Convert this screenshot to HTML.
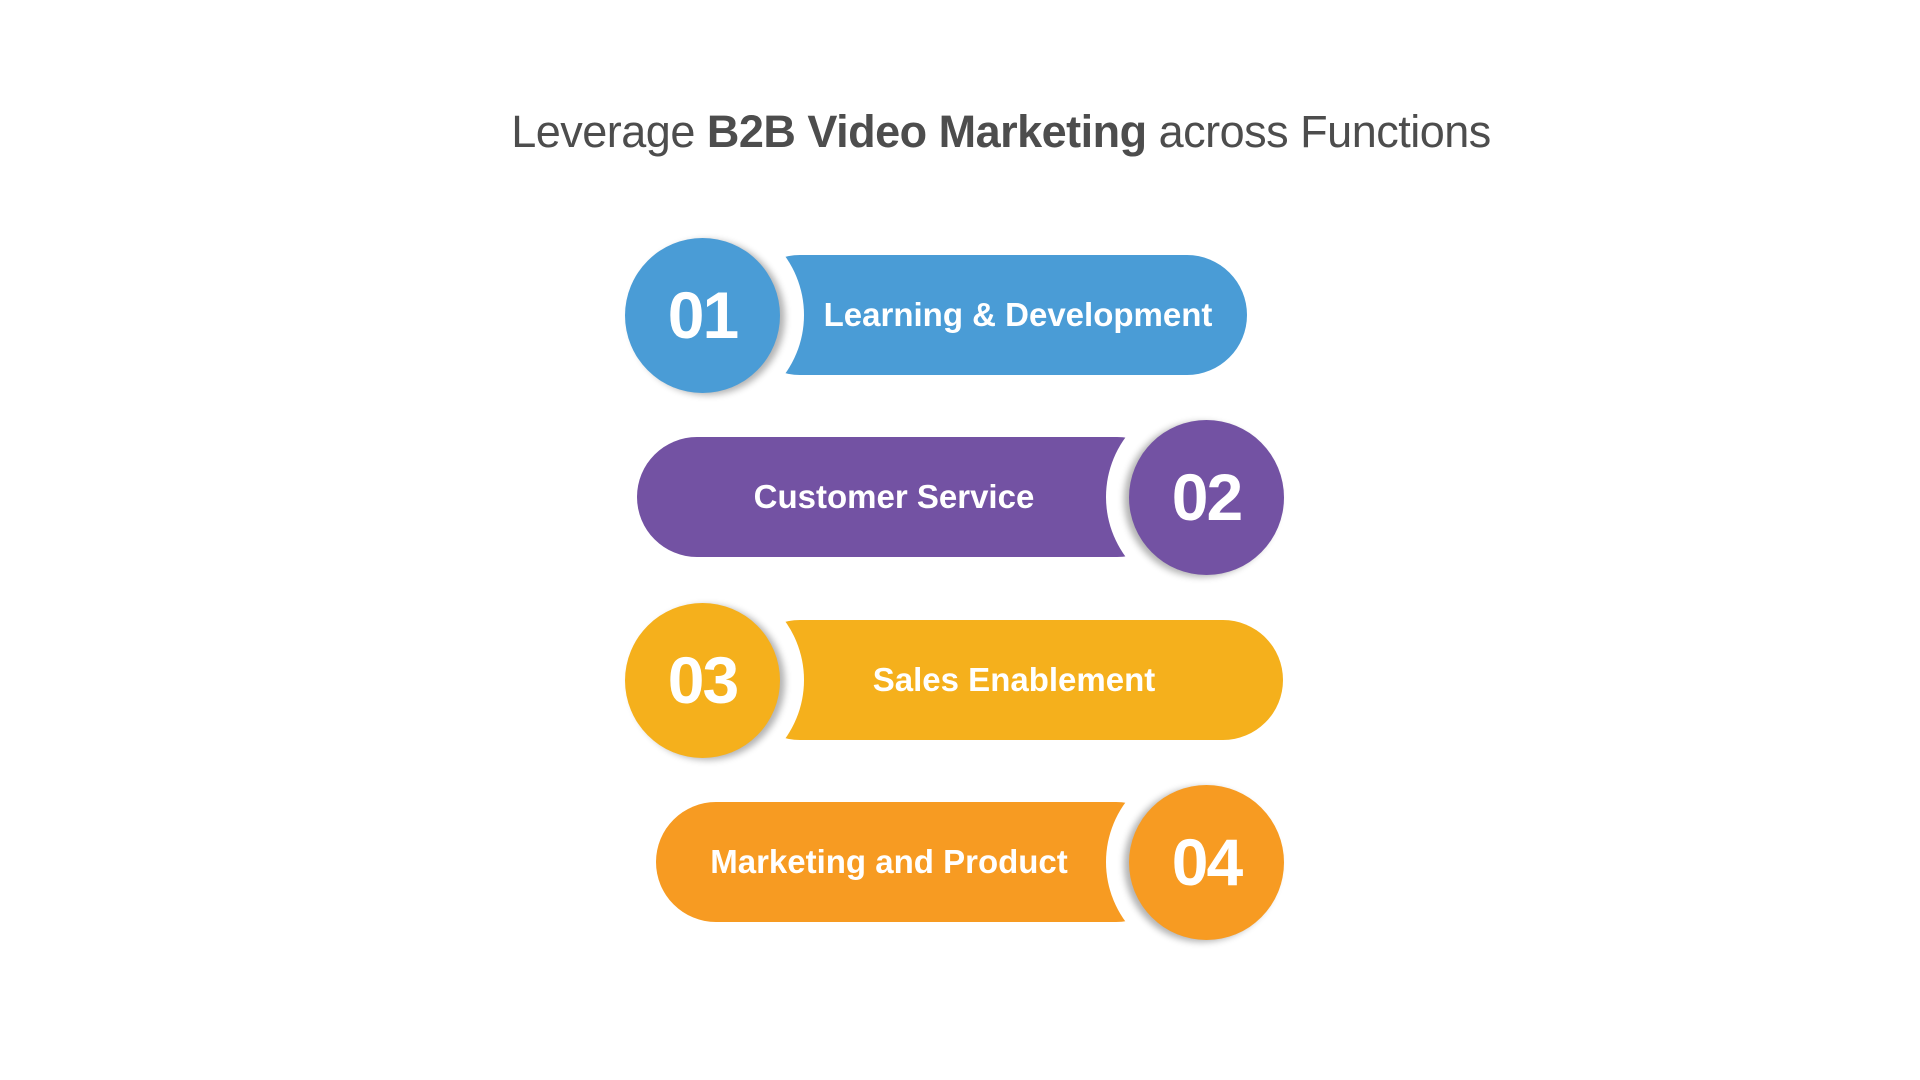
<!DOCTYPE html>
<html><head><meta charset="utf-8"><style>
html,body{margin:0;padding:0;background:#fff;}
body{width:1920px;height:1080px;position:relative;overflow:hidden;font-family:"Liberation Sans",sans-serif;}
.title{position:absolute;left:0;width:2002px;top:104px;text-align:center;font-size:45px;color:#4d4d4d;line-height:56px;letter-spacing:-0.5px;}
.bar{position:absolute;height:120px;border-radius:60px;color:#fff;font-weight:bold;font-size:33px;line-height:120px;}
.bar span{position:absolute;top:0;transform:translateX(-50%);white-space:nowrap;}
.ring{position:absolute;width:202px;height:202px;border-radius:50%;background:#fff;}
.circ{position:absolute;width:155px;height:155px;border-radius:50%;color:#fff;font-weight:bold;font-size:66px;line-height:155px;text-align:center;letter-spacing:-2px;}
</style></head><body>
<div class="title">Leverage <b>B2B Video Marketing</b> across Functions</div>

<!-- row 1 -->
<div class="bar" style="left:740px;width:507px;top:255px;background:#4a9cd6;"><span style="left:278px;">Learning &amp; Development</span></div>
<div class="ring" style="left:602px;top:214px;"></div>
<div class="circ" style="left:625px;top:238px;background:#4a9cd6;box-shadow:5px 2px 7px rgba(0,0,0,0.3);">01</div>

<!-- row 2 -->
<div class="bar" style="left:637px;width:540px;top:437px;background:#7352a3;"><span style="left:257px;">Customer Service</span></div>
<div class="ring" style="left:1106px;top:396px;"></div>
<div class="circ" style="left:1129px;top:420px;background:#7352a3;box-shadow:-5px 2px 7px rgba(0,0,0,0.3);">02</div>

<!-- row 3 -->
<div class="bar" style="left:740px;width:543px;top:620px;background:#f5b01c;"><span style="left:274px;">Sales Enablement</span></div>
<div class="ring" style="left:602px;top:579px;"></div>
<div class="circ" style="left:625px;top:603px;background:#f5b01c;box-shadow:5px 2px 7px rgba(0,0,0,0.3);">03</div>

<!-- row 4 -->
<div class="bar" style="left:656px;width:520px;top:802px;background:#f79b22;"><span style="left:233px;">Marketing and Product</span></div>
<div class="ring" style="left:1106px;top:761px;"></div>
<div class="circ" style="left:1129px;top:785px;background:#f79b22;box-shadow:-5px 2px 7px rgba(0,0,0,0.3);">04</div>
</body></html>
